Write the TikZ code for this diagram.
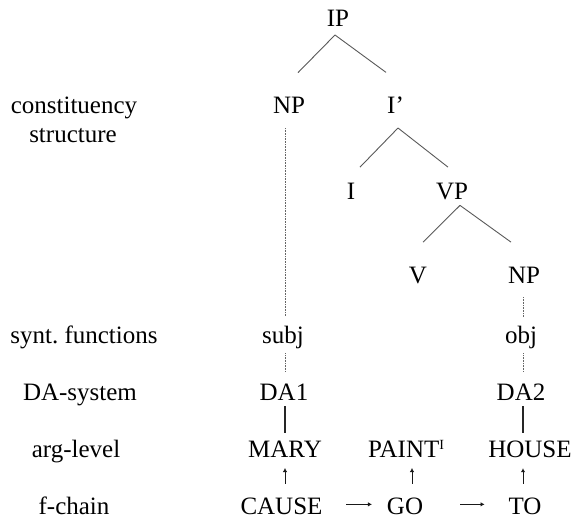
\documentclass[tikz,border=0pt]{standalone}
\usepackage{fontspec}
\setmainfont{Liberation Serif}
\usetikzlibrary{arrows.meta}
\begin{document}
\begin{tikzpicture}[x=1pt,y=-1pt,
  lbl/.style={anchor=base,inner sep=0pt,outer sep=0pt,font=\fontsize{25}{29}\selectfont,text=black},
  branch/.style={draw=black!65,line width=0.9pt},
  trace/.style={draw=black!60,line width=0.7pt,dash pattern=on 0.8pt off 0.8pt},
  link/.style={draw=black!85,line width=1.3pt},
  uparr/.style={draw=black!90,line width=1pt,-{Latex[length=4pt,width=4.5pt]}}]
\useasboundingbox (0,0) rectangle (573,519);
% left labels
\node[lbl] (cs1) at (74,113) {constituency};
\node[lbl] (cs2) at (73,142) {structure};
\node[lbl] (sf) at (84,343) {synt.\ functions};
\node[lbl] (das) at (80,400) {DA-system};
\node[lbl] (al) at (76,457) {arg-level};
\node[lbl] (fc) at (74,514) {f-chain};
% tree
\node[lbl] (IP) at (338,27) {IP};
\node[lbl] (NPa) at (289,113) {NP};
\node[lbl] (Ib) at (395.5,113) {I’};
\node[lbl] (I) at (351,199) {I};
\node[lbl] (VP) at (452,199) {VP};
\node[lbl] (V) at (418,283) {V};
\node[lbl] (NPb) at (524,283) {NP};
\node[lbl] (subj) at (283,343) {subj};
\node[lbl] (obj) at (521,343) {obj};
\node[lbl] (DAa) at (284,400) {DA1};
\node[lbl] (DAb) at (521,400) {DA2};
\node[lbl] (MARY) at (285,457) {MARY};
\node[lbl,anchor=base west] (PAINT) at (368,457) {PAINT\raisebox{8pt}{\fontsize{14}{14}\selectfont I}};
\node[lbl] (HOUSE) at (530,457) {HOUSE};
\node[lbl] (CAUSE) at (281.5,514) {CAUSE};
\node[lbl] (GO) at (405,514) {GO};
\node[lbl] (TO) at (525,514) {TO};
% branches
\draw[branch] ([shift={(-3,8)}]IP.south) -- ([shift={(9,-24)}]NPa.north);
\draw[branch] ([shift={(-3,8)}]IP.south) -- ([shift={(-9.5,-24)}]Ib.north);
\draw[branch] ([shift={(2.5,15)}]Ib.south) -- ([shift={(9,-15.5)}]I.north);
\draw[branch] ([shift={(2.5,15)}]Ib.south) -- ([shift={(-4,-15.5)}]VP.north);
\draw[branch] ([shift={(8,6)}]VP.south) -- ([shift={(5,-24.5)}]V.north);
\draw[branch] ([shift={(8,6)}]VP.south) -- ([shift={(-13,-24.5)}]NPb.north);
% dotted traces
\draw[trace] ([shift={(-4,15)}]NPa.south) -- ([shift={(2,-9)}]subj.north);
\draw[trace] ([shift={(2,5)}]subj.south) -- ([shift={(1,-12.5)}]DAa.north);
\draw[trace] ([shift={(-1,14)}]NPb.south) -- ([shift={(2,-9)}]obj.north);
\draw[trace] ([shift={(2,5)}]obj.south) -- ([shift={(2,-12.5)}]DAb.north);
% solid links
\draw[link] ([shift={(1,6)}]DAa.south) -- ([shift={(0,-7.5)}]MARY.north);
\draw[link] ([shift={(2,6)}]DAb.south) -- ([shift={(-7,-7.5)}]HOUSE.north);
% arrows
\draw[uparr] ([shift={(3.5,-13.5)}]CAUSE.north) -- ([shift={(0,11)}]MARY.south);
\draw[uparr] ([shift={(7,-13.5)}]GO.north) -- ([shift={(44,11)}]PAINT.base west);
\draw[uparr] ([shift={(-2,-13.5)}]TO.north) -- ([shift={(-7,11)}]HOUSE.south);
\draw[uparr] ([shift={(24,-1.5)}]CAUSE.east) -- ([shift={(-15,-1.5)}]GO.west);
\draw[uparr] ([shift={(37,-1.5)}]GO.east) -- ([shift={(-24,-1.5)}]TO.west);
\end{tikzpicture}
\end{document}
